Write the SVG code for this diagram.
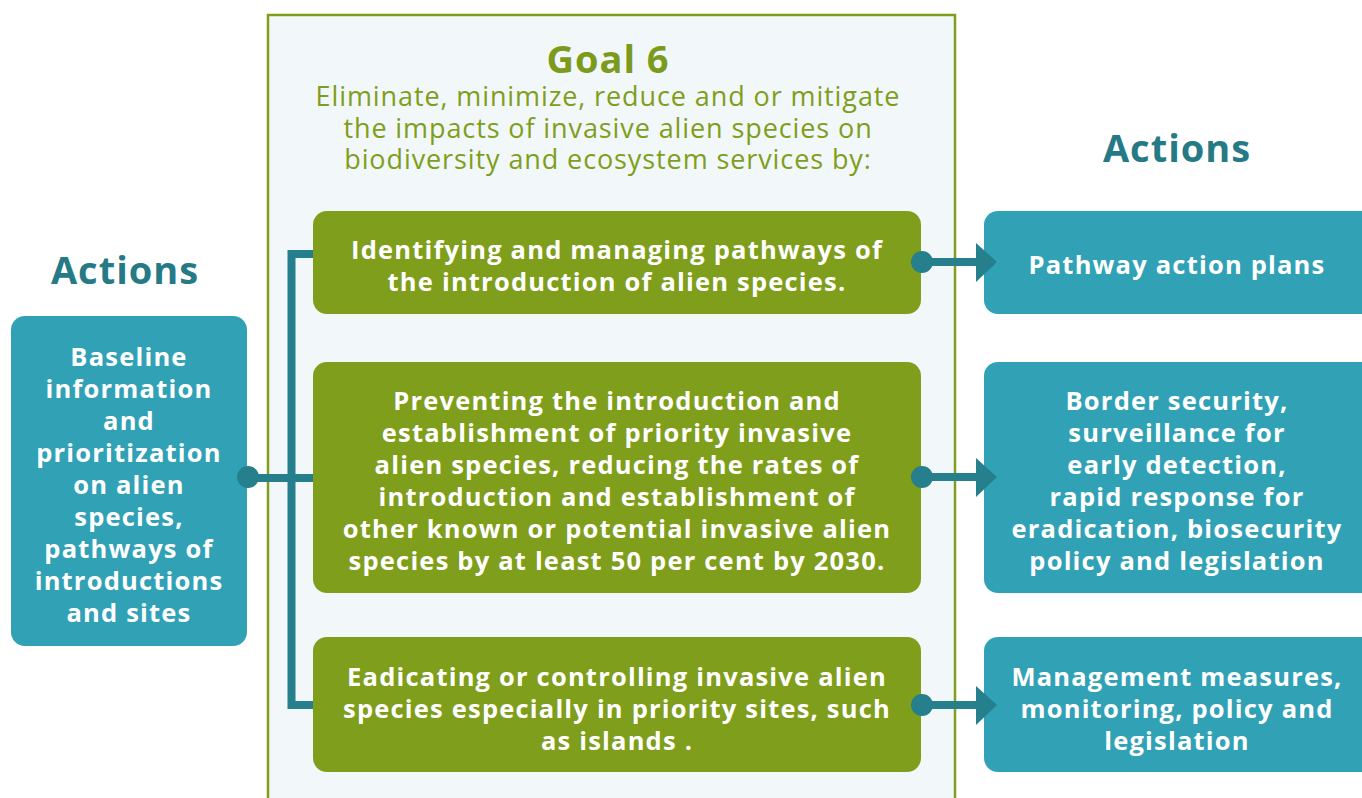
<svg xmlns="http://www.w3.org/2000/svg" width="1362" height="798" viewBox="0 0 1362 798">
<style>
.teal{fill:#31a2b6}
.green{fill:#7f9e1b}
.bt{font-family:"Open Sans","Liberation Sans",sans-serif;font-weight:700;font-size:25.5px;letter-spacing:1.2px;fill:#ffffff;text-anchor:middle}
.hd{font-family:"Open Sans","Liberation Sans",sans-serif;font-weight:700;font-size:38px;letter-spacing:1px;text-anchor:middle}
.sub{font-family:"Open Sans","Liberation Sans",sans-serif;font-weight:400;font-size:27px;letter-spacing:0.9px;fill:#7f9e1b;text-anchor:middle}
.con{stroke:#257f8c;stroke-width:8;fill:none}
.dot{fill:#257f8c}
</style>
<rect width="1362" height="798" fill="#ffffff"/>
<g id="goal">
<rect x="268" y="15" width="687" height="800" fill="#f2f7f9" stroke="#7f9e1b" stroke-width="2.5"/>
<text class="hd" x="608" y="73" fill="#7c9a1c">Goal 6</text>
<text class="sub" x="608" y="106">Eliminate, minimize, reduce and or mitigate</text>
<text class="sub" x="608" y="138">the impacts of invasive alien species on</text>
<text class="sub" x="608" y="169">biodiversity and ecosystem services by:</text>
</g>
<g id="actions-left-title"><text class="hd" x="125" y="284" fill="#257a86">Actions</text></g>
<g id="actions-right-title"><text class="hd" x="1177" y="162" fill="#257a86">Actions</text></g>
<g id="baseline">
<rect class="teal" x="11" y="316" width="236" height="330" rx="14"/>
<text class="bt" x="129" y="366">Baseline</text>
<text class="bt" x="129" y="398">information</text>
<text class="bt" x="129" y="430">and</text>
<text class="bt" x="129" y="462">prioritization</text>
<text class="bt" x="129" y="494">on alien</text>
<text class="bt" x="129" y="526">species,</text>
<text class="bt" x="129" y="558">pathways of</text>
<text class="bt" x="129" y="590">introductions</text>
<text class="bt" x="129" y="622">and sites</text>
</g>
<g id="goal-1">
<rect class="green" x="313" y="211" width="608" height="103" rx="14"/>
<text class="bt" x="617" y="259">Identifying and managing pathways of</text>
<text class="bt" x="617" y="291">the introduction of alien species.</text>
</g>
<g id="goal-2">
<rect class="green" x="313" y="362" width="608" height="231" rx="14"/>
<text class="bt" x="617" y="410">Preventing the introduction and</text>
<text class="bt" x="617" y="442">establishment of priority invasive</text>
<text class="bt" x="617" y="474">alien species, reducing the rates of</text>
<text class="bt" x="617" y="506">introduction and establishment of</text>
<text class="bt" x="617" y="538">other known or potential invasive alien</text>
<text class="bt" x="617" y="570">species by at least 50 per cent by 2030.</text>
</g>
<g id="goal-3">
<rect class="green" x="313" y="637" width="608" height="135" rx="14"/>
<text class="bt" x="617" y="686">Eadicating or controlling invasive alien</text>
<text class="bt" x="617" y="718">species especially in priority sites, such</text>
<text class="bt" x="617" y="750">as islands .</text>
</g>
<g id="action-1">
<rect class="teal" x="984" y="211" width="400" height="103" rx="14"/>
<text class="bt" x="1177" y="274">Pathway action plans</text>
</g>
<g id="action-2">
<rect class="teal" x="984" y="362" width="400" height="231" rx="14"/>
<text class="bt" x="1177" y="410">Border security,</text>
<text class="bt" x="1177" y="442">surveillance for</text>
<text class="bt" x="1177" y="474">early detection,</text>
<text class="bt" x="1177" y="506">rapid response for</text>
<text class="bt" x="1177" y="538">eradication, biosecurity</text>
<text class="bt" x="1177" y="570">policy and legislation</text>
</g>
<g id="action-3">
<rect class="teal" x="984" y="637" width="400" height="135" rx="14"/>
<text class="bt" x="1177" y="686">Management measures,</text>
<text class="bt" x="1177" y="718">monitoring, policy and</text>
<text class="bt" x="1177" y="750">legislation</text>
</g>
<g id="connectors">
<path class="con" d="M248 478 H313 M313 254 H291.5 V705 H313"/>
<circle class="dot" cx="248" cy="477" r="11"/>
<path class="con" d="M922 262 H980"/>
<circle class="dot" cx="922" cy="262" r="11"/>
<polygon class="dot" points="976,243 997,262 976,282"/>
<path class="con" d="M922 477 H980"/>
<circle class="dot" cx="922" cy="477" r="11"/>
<polygon class="dot" points="976,458 997,477 976,497"/>
<path class="con" d="M922 705 H980"/>
<circle class="dot" cx="922" cy="705" r="11"/>
<polygon class="dot" points="976,686 997,705 976,725"/>
</g>
</svg>
